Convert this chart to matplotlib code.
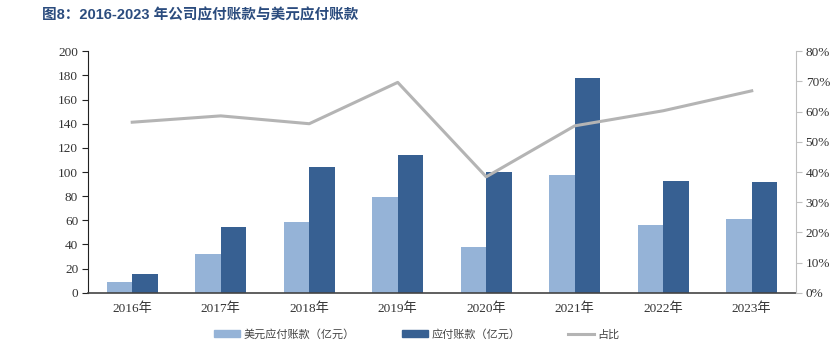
import matplotlib
matplotlib.use("Agg")
import matplotlib.pyplot as plt
import numpy as np
from matplotlib.patches import Patch
from matplotlib.lines import Line2D

categories = ["2016年", "2017年", "2018年", "2019年", "2020年", "2021年", "2022年", "2023年"]
usd_payables = [8.6, 31.8, 58.3, 79.3, 38.1, 97.8, 56.1, 61.1]
payables = [15.2, 54.2, 104.1, 113.8, 100.0, 177.6, 92.8, 91.5]
ratio = [56.5, 58.6, 56.0, 69.7, 38.4, 55.3, 60.3, 66.9]

c_light = "#95B3D7"
c_dark = "#376092"
c_line = "#B4B4B4"

serif = ["Liberation Serif", "Noto Sans CJK SC"]
plt.rcParams["font.family"] = serif

fig = plt.figure(figsize=(8.37, 3.58), dpi=100)
ax = fig.add_axes([0.1051, 0.1824, 0.8459, 0.6743])
ax2 = ax.twinx()

x = np.arange(len(categories))
w = 0.29
ax.bar(x - w / 2, usd_payables, w, color=c_light, zorder=2)
ax.bar(x + w / 2, payables, w, color=c_dark, zorder=2)
ax2.plot(x, np.array(ratio) / 100, color=c_line, lw=2.2, zorder=3)

ax.set_xlim(-0.5, len(categories) - 0.5)
ax.set_ylim(0, 200)
ax.set_yticks(range(0, 201, 20))
ax2.set_ylim(0, 0.8)
ax2.set_yticks(np.arange(0, 0.81, 0.1))
ax2.set_yticklabels([f"{int(round(v*100))}%" for v in np.arange(0, 0.81, 0.1)])

ax.set_xticks(x)
ax.set_xticklabels(categories)
ax.tick_params(axis="x", length=0, pad=7, labelsize=9.5, labelcolor="#333333")
ax.tick_params(axis="y", length=4, width=0.8, direction="out", labelsize=9.5, pad=3, color="#222222", labelcolor="#333333")
ax2.tick_params(axis="y", length=4, width=0.8, direction="out", labelsize=9.5, pad=3, color="#BFBFBF", labelcolor="#333333")

for a in (ax, ax2):
    a.spines["top"].set_visible(False)
ax.spines["right"].set_visible(False)
ax2.spines["left"].set_visible(False)
ax2.spines["bottom"].set_visible(False)
ax2.spines["right"].set_color("#BFBFBF")
ax.spines["left"].set_color("#222222")
ax.spines["bottom"].set_color("#444444")
ax.spines["bottom"].set_linewidth(1.2)

fig.text(0.05, 0.958, "图8：2016-2023 年公司应付账款与美元应付账款", fontsize=10.5, fontweight="bold",
         color="#2B4C7E", family=["Liberation Sans", "Noto Sans CJK SC"], va="center", ha="left")

handles = [Patch(color=c_light), Patch(color=c_dark), Line2D([0], [0], color=c_line, lw=2.2)]
labels = ["美元应付账款（亿元）", "应付账款（亿元）", "占比"]
fig.legend(handles, labels, loc="center", bbox_to_anchor=(0.498, 0.067), ncol=3, frameon=False,
           handlelength=2.35, handleheight=0.6, handletextpad=0.3, columnspacing=4.3,
           labelcolor="#444444", prop={"family": ["Noto Sans CJK SC"], "size": 8, "weight": "light"})

fig.savefig("out.png", dpi=100)
